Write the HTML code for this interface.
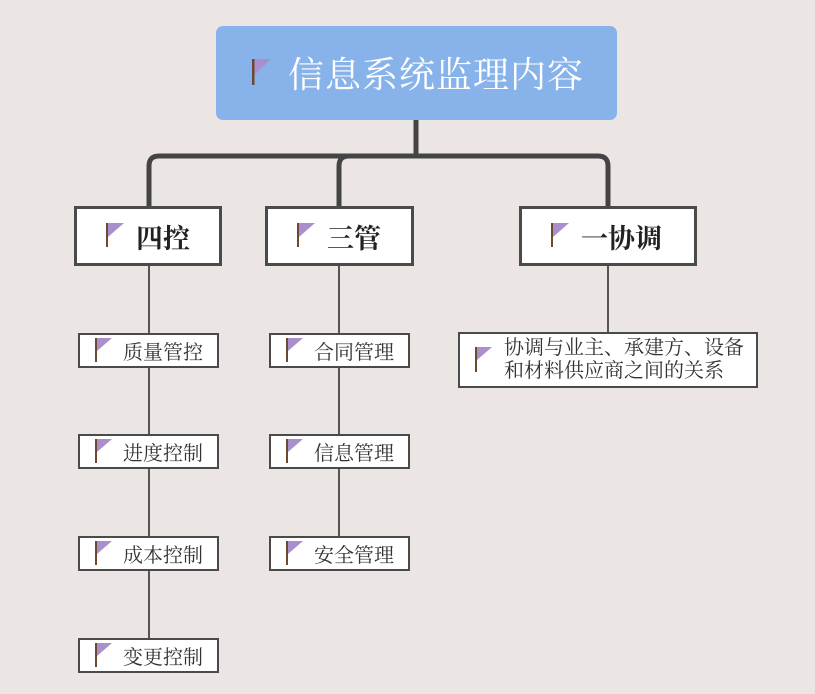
<!DOCTYPE html>
<html><head><meta charset="utf-8"><style>
body{margin:0;width:815px;height:694px;background:#ebe6e3;position:relative;overflow:hidden;font-family:"Liberation Serif","Noto Serif CJK SC",serif;}
.a{position:absolute;box-sizing:border-box}
.b{background:#fff;border:2px solid #4a4a4a}
.t{position:absolute;white-space:nowrap;color:#333}
svg.f{position:absolute}
</style></head><body>
<svg class="a" width="815" height="694" style="left:0;top:0">
<path d="M416 119 V156 M149 207 V166 Q149 156 159 156 H598 Q608 156 608 166 V207 M339 207 V166 Q339 156 349 156" fill="none" stroke="#444" stroke-width="5"/>
<path d="M149 264 V639 M339 264 V537 M608 264 V332" stroke="#555" stroke-width="2" fill="none"/>
</svg>
<div class="a" style="left:216px;top:26px;width:401px;height:94px;background:#88b3ea;border-radius:7px"></div>
<svg class="f" style="left:252px;top:59px" width="22" height="28"><rect x="0" y="0" width="2.5" height="26" fill="#6b4a32"/><path d="M2.5 0 H19 L2.5 16Z" fill="#a990cc"/></svg>
<div class="t" style="left:288px;top:47px;font-size:36px;color:#fff;letter-spacing:1px">信息系统监理内容</div>

<div class="a b" style="left:74px;top:206px;width:148px;height:60px;border-width:3px"></div>
<div class="a b" style="left:265px;top:206px;width:149px;height:60px;border-width:3px"></div>
<div class="a b" style="left:519px;top:206px;width:178px;height:60px;border-width:3px"></div>
<svg class="f" style="left:106px;top:223px" width="20" height="26"><rect width="2" height="24" fill="#6b4a32"/><path d="M2 0 H18 L2 14Z" fill="#a990cc"/></svg>
<svg class="f" style="left:297px;top:223px" width="20" height="26"><rect width="2" height="24" fill="#6b4a32"/><path d="M2 0 H18 L2 14Z" fill="#a990cc"/></svg>
<svg class="f" style="left:551px;top:223px" width="20" height="26"><rect width="2" height="24" fill="#6b4a32"/><path d="M2 0 H18 L2 14Z" fill="#a990cc"/></svg>
<div class="t" style="left:136px;top:217px;font-size:27px;font-weight:bold;color:#222">四控</div>
<div class="t" style="left:327px;top:217px;font-size:27px;font-weight:bold;color:#222">三管</div>
<div class="t" style="left:581px;top:217px;font-size:27px;font-weight:bold;color:#222">一协调</div>

<div class="a b" style="left:78px;top:333px;width:141px;height:35px"></div>
<div class="a b" style="left:78px;top:434px;width:141px;height:35px"></div>
<div class="a b" style="left:78px;top:536px;width:141px;height:35px"></div>
<div class="a b" style="left:78px;top:638px;width:141px;height:35px"></div>
<div class="a b" style="left:269px;top:333px;width:141px;height:35px"></div>
<div class="a b" style="left:269px;top:434px;width:141px;height:35px"></div>
<div class="a b" style="left:269px;top:536px;width:141px;height:35px"></div>
<div class="a b" style="left:458px;top:332px;width:300px;height:56px"></div>

<svg class="f" style="left:95px;top:338px" width="18" height="25"><rect width="2" height="24" fill="#6b4a32"/><path d="M2 0 H17 L2 13Z" fill="#a990cc"/></svg>
<svg class="f" style="left:95px;top:439px" width="18" height="25"><rect width="2" height="24" fill="#6b4a32"/><path d="M2 0 H17 L2 13Z" fill="#a990cc"/></svg>
<svg class="f" style="left:95px;top:541px" width="18" height="25"><rect width="2" height="24" fill="#6b4a32"/><path d="M2 0 H17 L2 13Z" fill="#a990cc"/></svg>
<svg class="f" style="left:95px;top:643px" width="18" height="25"><rect width="2" height="24" fill="#6b4a32"/><path d="M2 0 H17 L2 13Z" fill="#a990cc"/></svg>
<svg class="f" style="left:286px;top:338px" width="18" height="25"><rect width="2" height="24" fill="#6b4a32"/><path d="M2 0 H17 L2 13Z" fill="#a990cc"/></svg>
<svg class="f" style="left:286px;top:439px" width="18" height="25"><rect width="2" height="24" fill="#6b4a32"/><path d="M2 0 H17 L2 13Z" fill="#a990cc"/></svg>
<svg class="f" style="left:286px;top:541px" width="18" height="25"><rect width="2" height="24" fill="#6b4a32"/><path d="M2 0 H17 L2 13Z" fill="#a990cc"/></svg>
<svg class="f" style="left:475px;top:347px" width="18" height="25"><rect width="2" height="25" fill="#6b4a32"/><path d="M2 0 H17 L2 13Z" fill="#a990cc"/></svg>

<div class="t" style="left:123px;top:336px;font-size:20px">质量管控</div>
<div class="t" style="left:123px;top:437px;font-size:20px">进度控制</div>
<div class="t" style="left:123px;top:539px;font-size:20px">成本控制</div>
<div class="t" style="left:123px;top:641px;font-size:20px">变更控制</div>
<div class="t" style="left:314px;top:336px;font-size:20px">合同管理</div>
<div class="t" style="left:314px;top:437px;font-size:20px">信息管理</div>
<div class="t" style="left:314px;top:539px;font-size:20px">安全管理</div>
<div class="t" style="left:504px;top:337px;font-size:20px;line-height:23px">协调与业主、承建方、设备<br>和材料供应商之间的关系</div>
</body></html>
